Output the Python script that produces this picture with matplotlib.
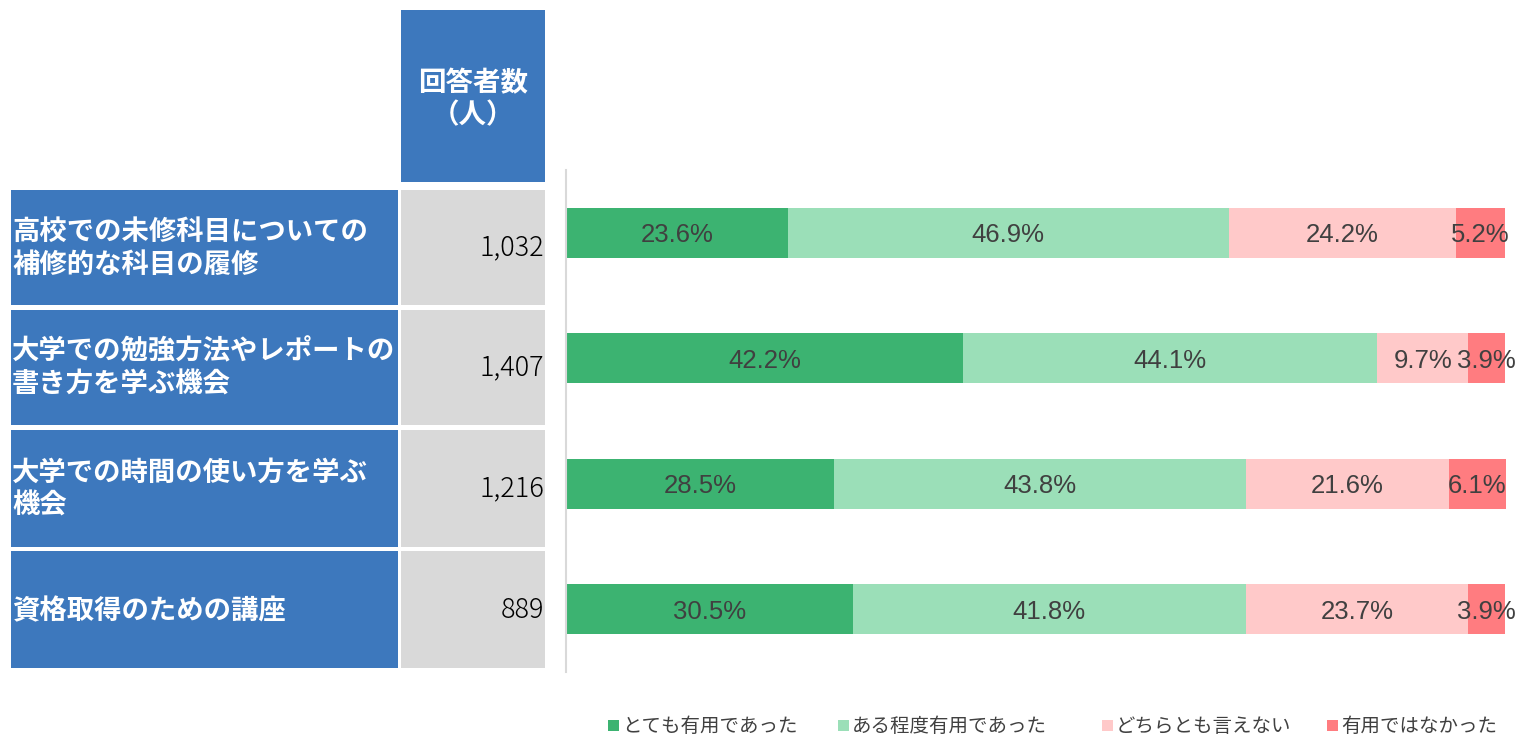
import matplotlib
matplotlib.use("Agg")
import matplotlib.pyplot as plt
from matplotlib.patches import Rectangle

plt.rcParams['font.family'] = ['Noto Sans CJK JP', 'DejaVu Sans']

# ---- data ----
categories = [
    "高校での未修科目についての\n補修的な科目の履修",
    "大学での勉強方法やレポートの\n書き方を学ぶ機会",
    "大学での時間の使い方を学ぶ\n機会",
    "資格取得のための講座",
]
respondents = ["1,032", "1,407", "1,216", "889"]
header = "回答者数\n（人）"
series_names = ["とても有用であった", "ある程度有用であった", "どちらとも言えない", "有用ではなかった"]
very_useful = [23.6, 42.2, 28.5, 30.5]
somewhat_useful = [46.9, 44.1, 43.8, 41.8]
neutral = [24.2, 9.7, 21.6, 23.7]
not_useful = [5.2, 3.9, 6.1, 3.9]
series_values = [very_useful, somewhat_useful, neutral, not_useful]
colors = ["#3CB371", "#9BDFB8", "#FFC9C9", "#FF7C80"]

W, H = 1521, 736
fig = plt.figure(figsize=(W / 100, H / 100), dpi=100)

# overlay axes in pixel coordinates for the table
ov = fig.add_axes([0, 0, 1, 1])
ov.set_xlim(0, W)
ov.set_ylim(H, 0)
ov.axis("off")

blue = "#3D78BD"
gray = "#D9D9D9"
# header cell
ov.add_patch(Rectangle((401, 10), 144, 172, color=blue, lw=0))
hl = header.split("\n")
ov.text(473, 83, hl[0], ha="center", va="center", color="white", fontsize=19.8, fontweight="bold")
ov.text(473, 115, hl[1], ha="center", va="center", color="white", fontsize=19.8, fontweight="bold")

row_tops = [190, 310, 430, 551]
row_h = [115, 115, 117, 117]
for i, (cat, n) in enumerate(zip(categories, respondents)):
    top = row_tops[i]
    h = row_h[i]
    ov.add_patch(Rectangle((11, top), 387, h, color=blue, lw=0))
    ov.add_patch(Rectangle((401, top), 144, h, color=gray, lw=0))
    lines = cat.split("\n")
    cy = top + h / 2
    if len(lines) == 2:
        ys = [cy - 16, cy + 17]
    else:
        ys = [cy + 2]
    for ln, y in zip(lines, ys):
        ov.text(12, y, ln, ha="left", va="center", color="white", fontsize=19.7, fontweight="bold")
    ov.text(544, top + h / 2, n, ha="right", va="center", color="black", fontsize=19.5,
            fontweight="light")

# bar chart axes
ax = fig.add_axes([566 / W, 1 - 672 / H, 940 / W, 502 / H])
ax.set_xlim(0, 100)
ax.set_ylim(3.5, -0.5)
ypos = list(range(len(categories)))
left = [0.0] * len(categories)
for name, vals, c in zip(series_names, series_values, colors):
    ax.barh(ypos, vals, left=left, height=0.4, color=c, label=name, lw=0)
    for y, v, l in zip(ypos, vals, left):
        ax.text(l + v / 2, y + 0.02, f"{v:.1f}%", ha="center", va="center", color="#404040",
                fontsize=18.5, family=["Liberation Sans", "DejaVu Sans"])
    left = [a + b for a, b in zip(left, vals)]

for s in ["top", "right", "bottom"]:
    ax.spines[s].set_visible(False)
ax.spines["left"].set_color("#D9D9D9")
ax.spines["left"].set_linewidth(1.5)
ax.set_xticks([])
ax.set_yticks([])
ax.patch.set_alpha(0)

# legend
leg_x = [608, 838, 1102, 1327]
for name, c, x in zip(series_names, colors, leg_x):
    ov.add_patch(Rectangle((x, 720), 11, 11, color=c, lw=0))
    ov.text(x + 14, 726, name, ha="left", va="center", color="#404040", fontsize=14)

fig.savefig("out.png", dpi=100)
